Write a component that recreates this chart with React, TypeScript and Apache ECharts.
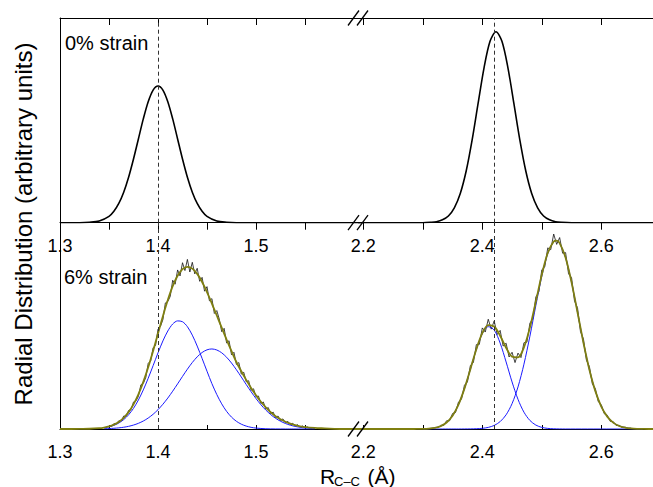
import React, { useEffect, useRef } from "react";
import * as echarts from "echarts";

// ---------- data ----------
// x values are bond lengths R (Å), y values are radial distribution (arbitrary units, 0..1 panel scale)

const leftTicks = [1.3, 1.35, 1.4, 1.45, 1.5, 1.55];
const leftLabels = [1.3, 1.4, 1.5];
const rightTicks = [2.2, 2.3, 2.4, 2.5, 2.6];
const rightLabels = [2.2, 2.4, 2.6];

const refLineLeft = 1.4;
const refLineRight = 2.423;

// 0% strain, first-neighbour peak
const strain0Left: [number, number][] = [
  [1.3, 0], [1.32, 0], [1.33, 0.002], [1.34, 0.008], [1.35, 0.031], [1.355, 0.056],
  [1.36, 0.094], [1.365, 0.149], [1.37, 0.222], [1.375, 0.311], [1.38, 0.409], [1.385, 0.507],
  [1.39, 0.591], [1.395, 0.648], [1.4, 0.668], [1.405, 0.648], [1.41, 0.591], [1.415, 0.507],
  [1.42, 0.409], [1.425, 0.311], [1.43, 0.222], [1.435, 0.149], [1.44, 0.094], [1.445, 0.056],
  [1.45, 0.031], [1.46, 0.008], [1.47, 0.002], [1.48, 0], [1.61, 0],
];

// 0% strain, second-neighbour peak
const strain0Right: [number, number][] = [
  [2.19, 0], [2.3, 0], [2.313, 0.002], [2.323, 0.005], [2.333, 0.014], [2.343, 0.033],
  [2.353, 0.073], [2.363, 0.143], [2.373, 0.254], [2.383, 0.406], [2.393, 0.584], [2.403, 0.758],
  [2.413, 0.886], [2.423, 0.933], [2.433, 0.886], [2.443, 0.758], [2.453, 0.584], [2.463, 0.406],
  [2.473, 0.254], [2.483, 0.143], [2.493, 0.073], [2.503, 0.033], [2.513, 0.014], [2.523, 0.005],
  [2.533, 0.002], [2.55, 0], [2.7, 0],
];

// 6% strain, fitted envelope (olive), left window
const fitLeft: [number, number][] = [
  [1.3, 0], [1.32, 0.0003], [1.33, 0.0011], [1.34, 0.004], [1.345, 0.0072], [1.35, 0.0125],
  [1.355, 0.0212], [1.36, 0.0344], [1.365, 0.054], [1.37, 0.0817], [1.375, 0.1193], [1.38, 0.168],
  [1.385, 0.2282], [1.39, 0.2992], [1.395, 0.3784], [1.4, 0.4627], [1.405, 0.547], [1.41, 0.625],
  [1.415, 0.6923], [1.42, 0.7428], [1.425, 0.7749], [1.43, 0.786], [1.435, 0.7773], [1.44, 0.7518],
  [1.445, 0.7128], [1.45, 0.6638], [1.455, 0.608], [1.46, 0.55], [1.465, 0.4914], [1.47, 0.4331],
  [1.475, 0.3775], [1.48, 0.3247], [1.485, 0.28], [1.49, 0.238], [1.495, 0.199], [1.5, 0.164],
  [1.505, 0.132], [1.51, 0.105], [1.515, 0.081], [1.52, 0.062], [1.525, 0.047], [1.53, 0.035],
  [1.535, 0.026], [1.54, 0.019], [1.545, 0.013], [1.55, 0.009], [1.56, 0.005], [1.57, 0.003],
  [1.58, 0.001], [1.59, 0], [1.61, 0],
];

// 6% strain, component 1 (blue)
const comp1: [number, number][] = [
  [1.345, 0.0059], [1.35, 0.0104], [1.355, 0.0177], [1.36, 0.0289], [1.365, 0.0455], [1.37, 0.0688],
  [1.375, 0.1002], [1.38, 0.1405], [1.385, 0.1895], [1.39, 0.246], [1.395, 0.307], [1.4, 0.369],
  [1.405, 0.427], [1.41, 0.475], [1.415, 0.509], [1.42, 0.524], [1.425, 0.52], [1.43, 0.496],
  [1.435, 0.455], [1.44, 0.402], [1.445, 0.342], [1.45, 0.28], [1.455, 0.22], [1.46, 0.167],
  [1.465, 0.122], [1.47, 0.0853], [1.475, 0.0576], [1.48, 0.0374], [1.485, 0.0234], [1.49, 0.0141],
  [1.495, 0.0081], [1.5, 0.0045], [1.51, 0.0012], [1.52, 0.0003], [1.53, 0], [1.56, 0],
];

// 6% strain, component 2 (blue)
const comp2: [number, number][] = [
  [1.345, 0.0013], [1.35, 0.0021], [1.355, 0.0035], [1.36, 0.0055], [1.365, 0.0085], [1.37, 0.0129],
  [1.375, 0.0191], [1.38, 0.0275], [1.385, 0.0387], [1.39, 0.0532], [1.395, 0.0714], [1.4, 0.0937],
  [1.405, 0.12], [1.41, 0.15], [1.415, 0.1833], [1.42, 0.2188], [1.425, 0.2549], [1.43, 0.29],
  [1.435, 0.3223], [1.44, 0.3498], [1.445, 0.3708], [1.45, 0.3838], [1.455, 0.388], [1.46, 0.383],
  [1.465, 0.3694], [1.47, 0.3478], [1.475, 0.3199], [1.48, 0.2873], [1.485, 0.252], [1.49, 0.2158],
  [1.495, 0.1806], [1.5, 0.1476], [1.505, 0.1177], [1.51, 0.0918], [1.515, 0.0698], [1.52, 0.0519],
  [1.525, 0.0377], [1.53, 0.0267], [1.535, 0.0185], [1.54, 0.0125], [1.545, 0.0083], [1.55, 0.0053],
  [1.56, 0.0021],
];

// 6% strain raw (noisy) trace, left window: starts at 1.35, step 0.0025
const rawLeftStart = 1.35;
const rawLeftStep = 0.0025;
const rawLeft = [
  0.016, 0.012, 0.026, 0.024, 0.04, 0.038, 0.063, 0.061, 0.09, 0.094,
  0.131, 0.136, 0.158, 0.214, 0.221, 0.249, 0.318, 0.33, 0.394, 0.405,
  0.484, 0.497, 0.53, 0.611, 0.618, 0.643, 0.721, 0.702, 0.771, 0.742,
  0.806, 0.768, 0.822, 0.761, 0.808, 0.752, 0.779, 0.716, 0.735, 0.668,
  0.69, 0.621, 0.632, 0.56, 0.574, 0.533, 0.472, 0.488, 0.417, 0.428,
  0.36, 0.372, 0.313, 0.322, 0.266, 0.275, 0.229, 0.234, 0.188, 0.195,
  0.156, 0.16, 0.124, 0.131, 0.097, 0.104, 0.074, 0.082, 0.055, 0.063,
  0.041, 0.049, 0.03, 0.037, 0.021, 0.028, 0.014, 0.021, 0.009, 0.015,
  0.006, 0.01, 0.004, 0.007, 0.003,
];

// 6% strain, fitted envelope (olive), right window
const fitRight: [number, number][] = [
  [2.19, 0], [2.28, 0], [2.29, 0.0002], [2.3, 0.0006], [2.31, 0.002], [2.32, 0.0055],
  [2.33, 0.014], [2.34, 0.0317], [2.35, 0.0647], [2.36, 0.1186], [2.37, 0.1958], [2.38, 0.2902],
  [2.39, 0.3869], [2.4, 0.4647], [2.41, 0.5038], [2.42, 0.4968], [2.43, 0.4523], [2.44, 0.3938],
  [2.45, 0.351], [2.46, 0.3476], [2.47, 0.3957], [2.48, 0.4913], [2.49, 0.6177], [2.5, 0.748],
  [2.51, 0.8534], [2.52, 0.9089], [2.525, 0.913], [2.53, 0.9009], [2.54, 0.8301], [2.55, 0.711],
  [2.56, 0.5658], [2.57, 0.4183], [2.58, 0.2874], [2.59, 0.1835], [2.6, 0.1088], [2.61, 0.06],
  [2.62, 0.0307], [2.63, 0.0146], [2.64, 0.0065], [2.65, 0.0027], [2.66, 0.001], [2.67, 0.0004],
  [2.68, 0], [2.7, 0],
];

// 6% strain, component 3 (blue)
const comp3: [number, number][] = [
  [2.3, 0.0006], [2.31, 0.002], [2.32, 0.0055], [2.33, 0.014], [2.34, 0.0317], [2.35, 0.0647],
  [2.36, 0.1186], [2.37, 0.1956], [2.38, 0.2897], [2.39, 0.3856], [2.4, 0.4614], [2.41, 0.496],
  [2.42, 0.4795], [2.43, 0.4165], [2.44, 0.325], [2.45, 0.2281], [2.46, 0.1438], [2.47, 0.0815],
  [2.48, 0.0415], [2.49, 0.019], [2.5, 0.0078], [2.51, 0.0029], [2.52, 0.001], [2.53, 0.0003],
  [2.54, 0], [2.67, 0],
];

// 6% strain, component 4 (blue)
const comp4: [number, number][] = [
  [2.3, 0], [2.36, 0], [2.37, 0.0002], [2.38, 0.0005], [2.39, 0.0013], [2.4, 0.0033],
  [2.41, 0.0078], [2.42, 0.0173], [2.43, 0.0358], [2.44, 0.0688], [2.45, 0.1229], [2.46, 0.2038],
  [2.47, 0.3142], [2.48, 0.4498], [2.49, 0.5987], [2.5, 0.7402], [2.51, 0.8505], [2.52, 0.9079],
  [2.525, 0.913], [2.53, 0.9006], [2.54, 0.8301], [2.55, 0.711], [2.56, 0.5658], [2.57, 0.4183],
  [2.58, 0.2874], [2.59, 0.1835], [2.6, 0.1088], [2.61, 0.06], [2.62, 0.0307], [2.63, 0.0146],
  [2.64, 0.0065], [2.65, 0.0027], [2.66, 0.001], [2.67, 0.0004],
];

// 6% strain raw (noisy) trace, right window: starts at 2.33, step 0.005
const rawRightStart = 2.33;
const rawRightStep = 0.005;
const rawRight = [
  0.018, 0.017, 0.04, 0.04, 0.075, 0.08, 0.131, 0.144, 0.212, 0.228,
  0.308, 0.322, 0.409, 0.41, 0.49, 0.47, 0.532, 0.484, 0.524, 0.458,
  0.478, 0.402, 0.416, 0.349, 0.372, 0.322, 0.368, 0.346, 0.418, 0.421,
  0.513, 0.534, 0.64, 0.664, 0.772, 0.786, 0.878, 0.869, 0.945, 0.895,
  0.928, 0.852, 0.855, 0.752, 0.734, 0.62, 0.588, 0.472, 0.437, 0.333,
  0.303, 0.218, 0.196, 0.132, 0.118, 0.074, 0.067, 0.037, 0.036, 0.017,
  0.018, 0.007, 0.009, 0.003, 0.004,
];

// ---------- chart ----------
const FONT = '"Liberation Sans", Arial, Helvetica, sans-serif';
const OLIVE = "#7f7f10";
const BLUE = "#1a1aff";

const LEFT_X = 60;
const BREAK_X = 359;
const TOP_Y = 18;
const MID_Y = 222.7;
const BOT_Y = 429;
const LEFT_MIN = 1.3;
const LEFT_MAX = 1.3 + (BREAK_X - LEFT_X) / 980;
const RIGHT_MIN = 2.2 - (363.3 - BREAK_X) / 595;
const RIGHT_MAX = RIGHT_MIN + (653 - BREAK_X) / 595;

function rawPairs(start: number, step: number, ys: number[]): [number, number][] {
  return ys.map((y, i) => [start + i * step, y]);
}

function xAxisDef(
  gridIndex: number,
  min: number,
  max: number,
  position: "top" | "bottom",
  ticks: number[],
  labels: number[] | null,
  tickInside: boolean,
  tickLen: number
) {
  return {
    type: "value",
    gridIndex,
    min,
    max,
    position,
    splitLine: { show: false },
    axisLine: { show: true, onZero: false, lineStyle: { color: "#000", width: 1 } },
    axisTick: {
      show: true,
      inside: tickInside,
      length: tickLen,
      customValues: ticks,
      lineStyle: { color: "#000", width: 1 },
    },
    axisLabel: labels
      ? {
          show: true,
          customValues: labels,
          margin: 14,
          fontSize: 18,
          fontFamily: FONT,
          color: "#000",
          formatter: (v: number) => v.toFixed(1),
        }
      : { show: false },
  };
}

function yAxisDef(gridIndex: number, visible: boolean) {
  return {
    type: "value",
    gridIndex,
    min: 0,
    max: 1,
    show: visible,
    splitLine: { show: false },
    axisLine: { show: true, onZero: false, lineStyle: { color: "#000", width: 1 } },
    axisTick: { show: false },
    axisLabel: { show: false },
  };
}

function lineSeries(
  data: [number, number][],
  xi: number,
  yi: number,
  color: string,
  width: number,
  smooth: number | boolean,
  extra: any = {}
) {
  return {
    type: "line",
    xAxisIndex: xi,
    yAxisIndex: yi,
    data,
    symbol: "none",
    showSymbol: false,
    smooth,
    silent: true,
    lineStyle: { color, width },
    ...extra,
  };
}

function dashed(x: number) {
  return {
    markLine: {
      symbol: ["none", "none"],
      silent: true,
      label: { show: false },
      lineStyle: { color: "#333", width: 1, type: [4, 3] },
      data: [{ xAxis: x }],
    },
  };
}

function slashes(y: number) {
  const s = { stroke: "#000", lineWidth: 1.3 };
  return [
    { type: "line", shape: { x1: 348, y1: y + 7.5, x2: 359, y2: y - 7.5 }, style: s, z: 100 },
    { type: "line", shape: { x1: 357, y1: y + 7.5, x2: 368, y2: y - 7.5 }, style: s, z: 100 },
  ];
}

function buildOption() {
  const gridBase = { show: false, containLabel: false, outerBoundsMode: "none" };
  return {
    animation: false,
    backgroundColor: "#fff",
    grid: [
      { ...gridBase, left: LEFT_X, top: TOP_Y, width: BREAK_X - LEFT_X, height: MID_Y - TOP_Y },
      { ...gridBase, left: BREAK_X, top: TOP_Y, width: 653 - BREAK_X, height: MID_Y - TOP_Y },
      { ...gridBase, left: LEFT_X, top: MID_Y, width: BREAK_X - LEFT_X, height: BOT_Y - MID_Y },
      { ...gridBase, left: BREAK_X, top: MID_Y, width: 653 - BREAK_X, height: BOT_Y - MID_Y },
    ],
    xAxis: [
      xAxisDef(0, LEFT_MIN, LEFT_MAX, "bottom", leftTicks, leftLabels, false, 7),
      xAxisDef(1, RIGHT_MIN, RIGHT_MAX, "bottom", rightTicks, rightLabels, false, 7),
      xAxisDef(2, LEFT_MIN, LEFT_MAX, "bottom", leftTicks, leftLabels, true, 4),
      xAxisDef(3, RIGHT_MIN, RIGHT_MAX, "bottom", rightTicks, rightLabels, true, 4),
      xAxisDef(0, LEFT_MIN, LEFT_MAX, "top", leftTicks, null, true, 7),
      xAxisDef(1, RIGHT_MIN, RIGHT_MAX, "top", rightTicks, null, true, 7),
    ],
    yAxis: [yAxisDef(0, true), yAxisDef(1, false), yAxisDef(2, true), yAxisDef(3, false)],
    series: [
      lineSeries(strain0Left, 0, 0, "#000", 1.6, 0.3, dashed(refLineLeft)),
      lineSeries(strain0Right, 1, 1, "#000", 1.6, 0.3, dashed(refLineRight)),
      lineSeries(rawPairs(rawLeftStart, rawLeftStep, rawLeft), 2, 2, "#111", 0.8, false, dashed(refLineLeft)),
      lineSeries(comp1, 2, 2, BLUE, 1, 0.3),
      lineSeries(comp2, 2, 2, BLUE, 1, 0.3),
      lineSeries(fitLeft, 2, 2, OLIVE, 1.8, 0.3),
      lineSeries(rawPairs(rawRightStart, rawRightStep, rawRight), 3, 3, "#111", 0.8, false, dashed(refLineRight)),
      lineSeries(comp3, 3, 3, BLUE, 1, 0.3),
      lineSeries(comp4, 3, 3, BLUE, 1, 0.3),
      lineSeries(fitRight, 3, 3, OLIVE, 1.8, 0.3),
    ],
    graphic: [
      {
        type: "text",
        x: 65,
        y: 42.7,
        style: { text: "0% strain", font: `20px ${FONT}`, fill: "#000", textAlign: "left", textVerticalAlign: "middle" },
      },
      {
        type: "text",
        x: 64,
        y: 277,
        style: { text: "6% strain", font: `20px ${FONT}`, fill: "#000", textAlign: "left", textVerticalAlign: "middle" },
      },
      {
        type: "text",
        x: 23,
        y: 224,
        rotation: Math.PI / 2,
        style: {
          text: "Radial Distribution (arbitrary units)",
          font: `24px ${FONT}`,
          fill: "#000",
          textAlign: "center",
          textVerticalAlign: "middle",
        },
      },
      {
        type: "text",
        x: 320,
        y: 476,
        style: { text: "R", font: `21px ${FONT}`, fill: "#000", textAlign: "left", textVerticalAlign: "middle" },
      },
      {
        type: "text",
        x: 334,
        y: 481,
        style: { text: "C–C", font: `13px ${FONT}`, fill: "#000", textAlign: "left", textVerticalAlign: "middle" },
      },
      {
        type: "text",
        x: 367.5,
        y: 476,
        style: { text: "(Å)", font: `21px ${FONT}`, fill: "#000", textAlign: "left", textVerticalAlign: "middle" },
      },
      ...slashes(TOP_Y),
      ...slashes(MID_Y),
      ...slashes(BOT_Y),
    ],
  };
}

export default function App() {
  const ref = useRef<HTMLDivElement>(null);
  useEffect(() => {
    if (!ref.current) return;
    const chart = echarts.init(ref.current, null, { renderer: "svg" });
    chart.setOption(buildOption() as any);
    return () => chart.dispose();
  }, []);
  return (
    <div
      ref={ref}
      style={{ position: "fixed", left: 0, top: 0, width: 653, height: 487, background: "#fff" }}
    />
  );
}
